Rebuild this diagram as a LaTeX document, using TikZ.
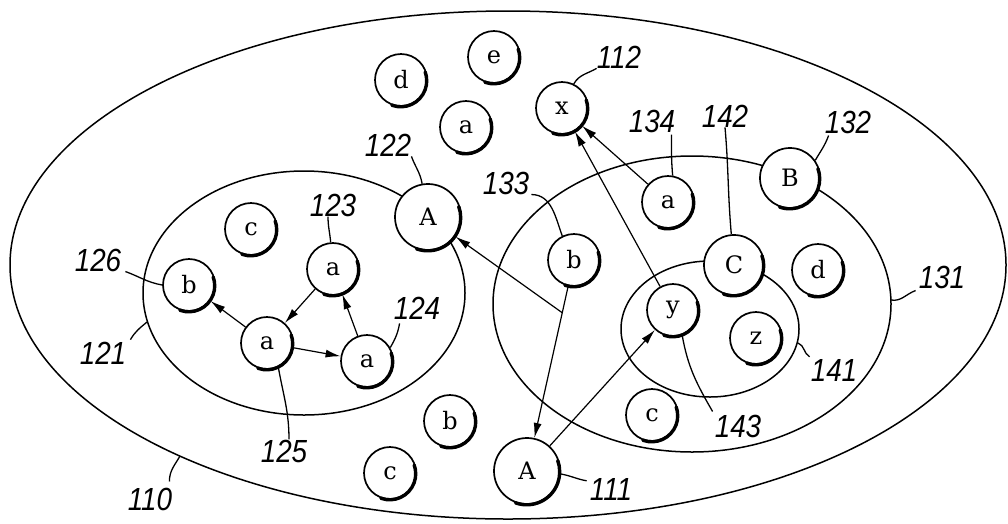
\documentclass[tikz,border=0pt]{standalone}
\usepackage{fontspec}
\usetikzlibrary{arrows.meta,calc}
\newfontfamily\numfont{Liberation Sans}[FakeStretch=0.87]
\newfontfamily\letfont{DejaVu Serif}
\begin{document}
\begin{tikzpicture}[x=1pt,y=-1pt,
  nd/.style={circle, draw, line width=1.7pt, minimum size=52pt, inner sep=0pt, fill=white,
             font=\letfont\fontsize{24}{24}\selectfont},
  mid/.style={minimum size=60pt},
  big/.style={minimum size=66pt},
  lbl/.style={font=\numfont\itshape\fontsize{32}{32}\selectfont, inner sep=0pt},
  ld/.style={line width=1.3pt},
  arr/.style={line width=1.2pt, -{Latex[length=15pt,width=8pt]}},
  ell/.style={line width=1.5pt},
  shd/.style={line width=3.4pt, line cap=round}]
\useasboundingbox (0,0) rectangle (1008,523);
% ellipses
\draw[ell] (508,265) ellipse [x radius=498pt, y radius=254pt];
\draw[ell] (304,293) ellipse [x radius=161pt, y radius=122pt];
\draw[ell] (692,304) ellipse [x radius=199pt, y radius=148pt];
\draw[ell] (710,329) ellipse [x radius=89pt, y radius=68pt];
% nodes
\node[nd] (d1) at (401,80) {d};
\node[nd] (e1) at (494,57) {e};
\node[nd] (a1) at (466,127) {a};
\node[nd] (x) at (562,108) {x};
\node[nd,big] (A2) at (428,217) {A};
\node[nd] (c2) at (251,229) {c};
\node[nd] (a3) at (333,269) {a};
\node[nd] (b6) at (189,285) {b};
\node[nd] (a5) at (267,343) {a};
\node[nd] (a4) at (367,361) {a};
\node[nd] (b2) at (574,260) {b};
\node[nd] (a34) at (668,202) {a};
\node[nd,mid] (C) at (734,265) {C};
\node[nd,mid] (B) at (790,178) {B};
\node[nd] (d3) at (818,270) {d};
\node[nd] (z) at (756,338) {z};
\node[nd] (y) at (673,310) {y};
\node[nd] (c4) at (652,415) {c};
\node[nd] (b7) at (450,421) {b};
\node[nd] (c7) at (390,473) {c};
\node[nd,big] (A1) at (527,471) {A};
% shadows
\foreach \n/\r in {d1/26,e1/26,a1/26,x/26,A2/33,c2/26,a3/26,b6/26,a5/26,a4/26,b2/26,a34/26,C/30,B/30,d3/26,z/26,y/26,c4/26,b7/26,c7/26,A1/33}
  \draw[shd] (\n.-110) arc[start angle=-110, end angle=20, radius=\r pt];
% labels
\node[lbl] (l112) at (619,57) {112};
\node[lbl] (l122) at (388,145) {122};
\node[lbl] (l123) at (333,205) {123};
\node[lbl] (l124) at (417,308) {124};
\node[lbl] (l125) at (284,451) {125};
\node[lbl] (l126) at (98,260) {126};
\node[lbl] (l121) at (103,353) {121};
\node[lbl] (l110) at (150,499) {110};
\node[lbl] (l111) at (611,489) {111};
\node[lbl] (l133) at (506,183) {133};
\node[lbl] (l134) at (652,121) {134};
\node[lbl] (l142) at (725,116) {142};
\node[lbl] (l132) at (848,122) {132};
\node[lbl] (l131) at (942,277) {131};
\node[lbl] (l141) at (834,370) {141};
\node[lbl] (l143) at (738,426) {143};
% ellipse points
\coordinate (e121) at (147,322);
\coordinate (e110) at (180,456);
\coordinate (e131) at (891,300);
\coordinate (e141) at (798,343);
% leaders
\draw[ld] (x.64) to[out=60,in=210] (l112.south west);
\draw[ld] (A2.100) to[out=100,in=-70] (l122.south east);
\draw[ld] (a3.95) to[out=95,in=-90] ($(l123.south)+(-5,0)$);
\draw[ld] (a4.30) to[out=60,in=-100] ($(l124.south west)+(6,4)$);
\draw[ld] (a5.-65) to[out=-80,in=90] ($(l125.north)+(5,0)$);
\draw[ld] (b6.west) to[out=170,in=-20] ($(l126.south east)+(4,0)$);
\draw[ld] (e121) to[out=220,in=60] ($(l121.north east)+(4,-2)$);
\draw[ld] (e110) to[out=240,in=90] ($(l110.north east)+(-3,-6)$);
\draw[ld] (A1.-5) to[out=-10,in=170] ($(l111.north west)+(-3,3)$);
\draw[ld] ($(l133.south east)+(2,0)$) to[out=0,in=110] (b2.116);
\draw[ld] (a34.80) to[out=95,in=-90] ($(l134.south east)+(-4,2)$);
\draw[ld] (C.95) to[out=95,in=-85] (l142.south);
\draw[ld] (B.35) to[out=60,in=-110] ($(l132.south west)+(4,2)$);
\draw[ld] (e131) to[out=-10,in=200] ($(l131.south west)+(-3,2)$);
\draw[ld] (e141) to[out=-20,in=150] ($(l141.north west)+(-1,-2)$);
\draw[ld] (y.-70) to[out=-80,in=120] ($(l143.north west)+(-2,-3)$);
% arrows
\draw[arr] (a5) -- (b6);
\draw[arr] (a3) -- (a5);
\draw[arr] (a5) -- (a4);
\draw[arr] (a4) -- (a3);
\draw[arr] (b2) -- (A1);
\coordinate (j) at ($(b2)!0.25!(A1)$);
\draw[arr] (j) -- (A2);
\draw[arr] (y) -- (x);
\draw[arr] (a34) -- (x);
\draw[arr] (A1) -- (y);
\end{tikzpicture}
\end{document}
